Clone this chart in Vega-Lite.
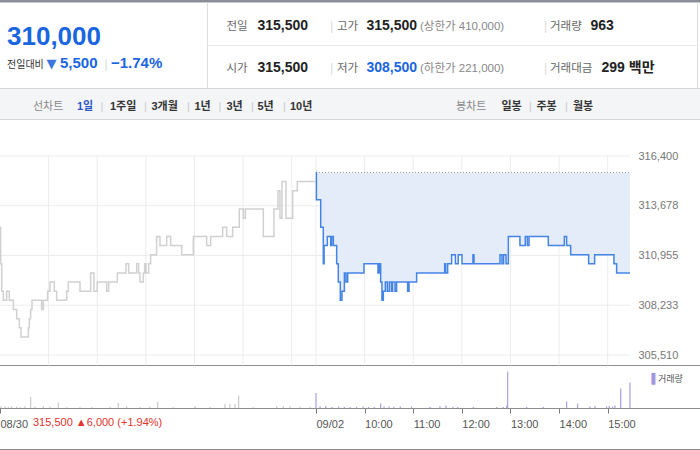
{
"$schema":"https://vega.github.io/schema/vega-lite/v6.json",
"width":700,"height":450,"autosize":{"type":"none"},"padding":0,"background":"#ffffff",
"config":{"view":{"stroke":null}},
"datasets":{
"frame":[
{"x0":0,"x1":38,"y0":0,"y1":1,"k":"top","m":"rect"},
{"x0":0,"x1":38,"y0":7,"y1":9,"k":"tab","m":"rect"},
{"x0":0,"x1":38,"y0":7,"y1":7,"k":"border","m":"rule"},
{"x0":0,"x1":38,"y0":9,"y1":9,"k":"border","m":"rule"},
{"x0":14,"x1":14,"y0":1,"y1":7,"k":"light","m":"rule"},
{"x0":14,"x1":37,"y0":4,"y1":4,"k":"faint","m":"rule"},
{"x0":37,"x1":37,"y0":1,"y1":7,"k":"light","m":"rule"},
{"x0":0,"x1":38,"y0":11,"y1":11,"k":"dark","m":"rule"},
{"x0":0,"x1":38,"y0":13,"y1":13,"k":"dark","m":"rule"},
{"x0":0,"x1":38,"y0":15,"y1":15,"k":"dark","m":"rule"}
],
"hdr":[
{"s":"310,000","ix":1,"iy":3,"g":"big"},
{"s":"전일대비","ix":1,"iy":5,"g":"sublbl"},
{"s":"▼","ix":3,"iy":5,"g":"tri"},
{"s":"5,500","ix":4,"iy":5,"g":"subval"},
{"s":"|","ix":7,"iy":5,"g":"sep"},
{"s":"−1.74%","ix":9,"iy":5,"g":"subval"},
{"s":"전일","ix":16,"iy":2,"g":"lbl"},
{"s":"시가","ix":16,"iy":6,"g":"lbl"},
{"s":"고가","ix":22,"iy":2,"g":"lbl"},
{"s":"저가","ix":22,"iy":6,"g":"lbl"},
{"s":"거래량","ix":30,"iy":2,"g":"lbl"},
{"s":"거래대금","ix":30,"iy":6,"g":"lbl"},
{"s":"315,500","ix":18,"iy":2,"g":"val"},
{"s":"315,500","ix":18,"iy":6,"g":"val"},
{"s":"315,500","ix":23,"iy":2,"g":"val"},
{"s":"963","ix":33,"iy":2,"g":"val"},
{"s":"299 백만","ix":34,"iy":6,"g":"val"},
{"s":"308,500","ix":23,"iy":6,"g":"valblue"},
{"s":"(상한가 410,000)","ix":24,"iy":2,"g":"paren"},
{"s":"(하한가 221,000)","ix":24,"iy":6,"g":"paren"},
{"s":"|","ix":21,"iy":2,"g":"sep"},
{"s":"|","ix":21,"iy":6,"g":"sep"},
{"s":"|","ix":29,"iy":2,"g":"sep"},
{"s":"|","ix":29,"iy":6,"g":"sep"},
{"s":"선차트","ix":2,"iy":8,"g":"tabhead"},
{"s":"봉차트","ix":25,"iy":8,"g":"tabhead"},
{"s":"1일","ix":5,"iy":8,"g":"tabsel"},
{"s":"1주일","ix":8,"iy":8,"g":"tab"},
{"s":"3개월","ix":11,"iy":8,"g":"tab"},
{"s":"1년","ix":13,"iy":8,"g":"tab"},
{"s":"3년","ix":16,"iy":8,"g":"tab"},
{"s":"5년","ix":18,"iy":8,"g":"tab"},
{"s":"10년","ix":20,"iy":8,"g":"tab"},
{"s":"일봉","ix":26,"iy":8,"g":"tab"},
{"s":"주봉","ix":28,"iy":8,"g":"tab"},
{"s":"월봉","ix":32,"iy":8,"g":"tab"},
{"s":"|","ix":6,"iy":8,"g":"tabsep"},
{"s":"|","ix":10,"iy":8,"g":"tabsep"},
{"s":"|","ix":12,"iy":8,"g":"tabsep"},
{"s":"|","ix":15,"iy":8,"g":"tabsep"},
{"s":"|","ix":17,"iy":8,"g":"tabsep"},
{"s":"|","ix":19,"iy":8,"g":"tabsep"},
{"s":"|","ix":27,"iy":8,"g":"tabsep"},
{"s":"|","ix":31,"iy":8,"g":"tabsep"},
{"s":"315,500 ▲6,000 (+1.94%)","ix":2,"iy":14,"g":"red"},
{"s":"거래량","ix":36,"iy":12,"g":"leg"},
{"s":"▌","ix":35,"iy":12,"g":"legbar"}
],
"hgrid":[{"p":305510},{"p":308233},{"p":310955},{"p":313678},{"p":316400}],
"vgrid":[{"t":60},{"t":120},{"t":180},{"t":240},{"t":300},{"t":360},{"t":390},{"t":450},{"t":510},{"t":570},{"t":630},{"t":690},{"t":750}],
"price":[
{"d":"08/30","t":0,"p":312500},{"d":"08/30","t":0.8,"p":310500},{"d":"08/30","t":2.1,"p":309000},{"d":"08/30","t":4.1,"p":308500},
{"d":"08/30","t":8.2,"p":309000},{"d":"08/30","t":11.5,"p":308500},{"d":"08/30","t":16.5,"p":308000},{"d":"08/30","t":20.6,"p":307500},
{"d":"08/30","t":23.9,"p":307000},{"d":"08/30","t":25.9,"p":306500},{"d":"08/30","t":35,"p":307000},{"d":"08/30","t":36.2,"p":307500},
{"d":"08/30","t":37.8,"p":308000},{"d":"08/30","t":39.5,"p":308500},{"d":"08/30","t":51.4,"p":308000},{"d":"08/30","t":53.5,"p":308500},
{"d":"08/30","t":58.8,"p":309000},{"d":"08/30","t":61.7,"p":309500},{"d":"08/30","t":67,"p":309000},{"d":"08/30","t":69.9,"p":308500},
{"d":"08/30","t":82.3,"p":309000},{"d":"08/30","t":84.3,"p":309500},{"d":"08/30","t":98.7,"p":309000},{"d":"08/30","t":111.9,"p":310000},
{"d":"08/30","t":116,"p":309000},{"d":"08/30","t":120.1,"p":309500},{"d":"08/30","t":131.6,"p":309000},{"d":"08/30","t":134.1,"p":309500},
{"d":"08/30","t":144.8,"p":310000},{"d":"08/30","t":155.5,"p":310500},{"d":"08/30","t":158.8,"p":310000},{"d":"08/30","t":168.7,"p":310500},
{"d":"08/30","t":171.1,"p":310000},{"d":"08/30","t":172.8,"p":309500},{"d":"08/30","t":176.9,"p":310000},{"d":"08/30","t":178.5,"p":310500},
{"d":"08/30","t":180.2,"p":310000},{"d":"08/30","t":183.5,"p":310500},{"d":"08/30","t":185.9,"p":311000},{"d":"08/30","t":193.3,"p":312000},
{"d":"08/30","t":197.4,"p":311500},{"d":"08/30","t":205.7,"p":312000},{"d":"08/30","t":210.6,"p":311500},{"d":"08/30","t":224.2,"p":311000},
{"d":"08/30","t":238.6,"p":312000},{"d":"08/30","t":255,"p":311500},{"d":"08/30","t":260,"p":312000},{"d":"08/30","t":274.8,"p":312500},
{"d":"08/30","t":279.7,"p":312000},{"d":"08/30","t":287.1,"p":312500},{"d":"08/30","t":295.3,"p":313500},{"d":"08/30","t":300.3,"p":313000},
{"d":"08/30","t":302.8,"p":313500},{"d":"08/30","t":325,"p":312000},{"d":"08/30","t":338.1,"p":313500},{"d":"08/30","t":343.1,"p":314500},
{"d":"08/30","t":345.5,"p":313000},{"d":"08/30","t":348,"p":315000},{"d":"08/30","t":352.9,"p":313000},{"d":"08/30","t":361.2,"p":314500},
{"d":"08/30","t":366.9,"p":315000},{"d":"08/30","t":389,"p":315000},
{"d":"09/02","t":390,"p":315500},{"d":"09/02","t":390.5,"p":314000},{"d":"09/02","t":395.8,"p":312500},{"d":"09/02","t":399,"p":310500},
{"d":"09/02","t":400,"p":311500},{"d":"09/02","t":404,"p":312000},{"d":"09/02","t":408.1,"p":311500},{"d":"09/02","t":409.3,"p":312000},
{"d":"09/02","t":411.4,"p":311500},{"d":"09/02","t":415.5,"p":310500},{"d":"09/02","t":417.5,"p":309500},{"d":"09/02","t":420,"p":308500},
{"d":"09/02","t":422,"p":309000},{"d":"09/02","t":425,"p":310000},{"d":"09/02","t":427,"p":309500},{"d":"09/02","t":429.1,"p":310000},
{"d":"09/02","t":449.2,"p":310500},{"d":"09/02","t":466.5,"p":310000},{"d":"09/02","t":468.2,"p":310500},{"d":"09/02","t":469.8,"p":309500},
{"d":"09/02","t":471.4,"p":308500},{"d":"09/02","t":473.1,"p":309000},{"d":"09/02","t":475.6,"p":309500},{"d":"09/02","t":478,"p":309000},
{"d":"09/02","t":480.5,"p":309500},{"d":"09/02","t":483,"p":309000},{"d":"09/02","t":484.6,"p":309500},{"d":"09/02","t":487.5,"p":309000},
{"d":"09/02","t":489.5,"p":309500},{"d":"09/02","t":503.1,"p":309000},{"d":"09/02","t":504.8,"p":309500},{"d":"09/02","t":514.2,"p":310000},
{"d":"09/02","t":548.8,"p":310500},{"d":"09/02","t":550,"p":310000},{"d":"09/02","t":552.5,"p":310500},{"d":"09/02","t":557.4,"p":311000},
{"d":"09/02","t":562,"p":310500},{"d":"09/02","t":565.6,"p":311000},{"d":"09/02","t":570.2,"p":310500},{"d":"09/02","t":583.7,"p":311000},
{"d":"09/02","t":585,"p":310500},{"d":"09/02","t":617.1,"p":311000},{"d":"09/02","t":619.5,"p":310500},{"d":"09/02","t":621.6,"p":311000},
{"d":"09/02","t":624.5,"p":310500},{"d":"09/02","t":627.4,"p":312000},{"d":"09/02","t":641.7,"p":311500},{"d":"09/02","t":648.3,"p":312000},
{"d":"09/02","t":650.8,"p":311500},{"d":"09/02","t":652.9,"p":312000},{"d":"09/02","t":676.7,"p":311500},{"d":"09/02","t":696.5,"p":312000},
{"d":"09/02","t":699.3,"p":311500},{"d":"09/02","t":704.3,"p":311000},{"d":"09/02","t":726.5,"p":310500},{"d":"09/02","t":733.9,"p":311000},
{"d":"09/02","t":757.7,"p":310500},{"d":"09/02","t":761,"p":310000},{"d":"09/02","t":777.5,"p":310000}
],
"vol":[
{"d":"08/30","t":1.2,"v":4},{"d":"08/30","t":6.2,"v":3},{"d":"08/30","t":10.3,"v":2},{"d":"08/30","t":14.4,"v":3},{"d":"08/30","t":20.6,"v":3},
{"d":"08/30","t":24.7,"v":2},{"d":"08/30","t":30.9,"v":4},{"d":"08/30","t":37.8,"v":22},{"d":"08/30","t":43.2,"v":3},{"d":"08/30","t":53.5,"v":4},
{"d":"08/30","t":61.7,"v":3},{"d":"08/30","t":72,"v":11},{"d":"08/30","t":82.3,"v":2},{"d":"08/30","t":98.7,"v":2},{"d":"08/30","t":113.1,"v":2},
{"d":"08/30","t":135.7,"v":2},{"d":"08/30","t":146,"v":10},{"d":"08/30","t":156.3,"v":4},{"d":"08/30","t":172.8,"v":2},{"d":"08/30","t":185.1,"v":3},
{"d":"08/30","t":194.6,"v":12},{"d":"08/30","t":213.9,"v":2},{"d":"08/30","t":240.6,"v":4},{"d":"08/30","t":259.2,"v":2},{"d":"08/30","t":277.7,"v":8},
{"d":"08/30","t":283.8,"v":8},{"d":"08/30","t":290,"v":8},{"d":"08/30","t":294.5,"v":25},{"d":"08/30","t":312.6,"v":2},{"d":"08/30","t":341.4,"v":4},
{"d":"08/30","t":349.6,"v":4},{"d":"08/30","t":357.9,"v":4},{"d":"08/30","t":370.2,"v":3},{"d":"08/30","t":382.6,"v":2},
{"d":"09/02","t":390,"v":30},{"d":"09/02","t":395,"v":3},{"d":"09/02","t":402,"v":4},{"d":"09/02","t":410,"v":2},{"d":"09/02","t":418,"v":3},
{"d":"09/02","t":425,"v":2},{"d":"09/02","t":432,"v":2},{"d":"09/02","t":440,"v":2},{"d":"09/02","t":448,"v":3},{"d":"09/02","t":455,"v":2},
{"d":"09/02","t":462,"v":2},{"d":"09/02","t":469.8,"v":9},{"d":"09/02","t":474,"v":3},{"d":"09/02","t":480,"v":3},{"d":"09/02","t":486,"v":2},
{"d":"09/02","t":494,"v":3},{"d":"09/02","t":508,"v":3},{"d":"09/02","t":530.7,"v":2},{"d":"09/02","t":543,"v":4},{"d":"09/02","t":550.4,"v":5},
{"d":"09/02","t":559,"v":2},{"d":"09/02","t":565,"v":2},{"d":"09/02","t":584.2,"v":2},{"d":"09/02","t":613,"v":2},{"d":"09/02","t":621,"v":2},
{"d":"09/02","t":625.3,"v":5},{"d":"09/02","t":626.5,"v":73},{"d":"09/02","t":650,"v":2},{"d":"09/02","t":670.5,"v":2},{"d":"09/02","t":699.3,"v":13},
{"d":"09/02","t":712.9,"v":9},{"d":"09/02","t":728.1,"v":3},{"d":"09/02","t":734.3,"v":4},{"d":"09/02","t":748.7,"v":3},{"d":"09/02","t":752,"v":4},
{"d":"09/02","t":756,"v":3},{"d":"09/02","t":759,"v":5},{"d":"09/02","t":766,"v":39},{"d":"09/02","t":777.5,"v":51}
]
},
"resolve":{"scale":{"x":"independent","y":"independent","color":"independent"},"axis":{"x":"independent","y":"independent"}},
"layer":[
{"data":{"name":"frame"},
 "encoding":{
  "x":{"field":"x0","type":"quantitative","axis":null,"scale":{"domain":[0,1,2,3,4,5,6,7,8,9,10,11,12,13,14,15,16,17,18,19,20,21,22,23,24,25,26,27,28,29,30,31,32,33,34,35,36,37,38],"range":[0,7,33,46.5,60,77,100.5,104.5,110,111,144,151.5,187,194.5,207.5,218.5,226.5,251,257.5,283,290,330,337,366.5,420,456,501.5,529,536.5,544,550,565,573,590.5,601.5,651.5,658,697.5,700],"nice":false,"zero":false}},
  "x2":{"field":"x1"},
  "y":{"field":"y0","type":"quantitative","axis":null,"scale":{"domain":[0,1,2,3,4,5,6,7,8,9,10,11,12,13,14,15],"range":[0,2.5,29.5,45,45.5,67.5,71.5,88.5,109.5,119.5,156,365.5,382,408.5,425.5,449.5],"nice":false,"zero":false}},
  "y2":{"field":"y1"},
  "color":{"field":"k","type":"nominal","legend":null,"scale":{"domain":["top","tab","border","light","faint","dark"],"range":["#8c8f97","#f4f5f7","#d3d5da","#dedede","#ebebeb","#8d8d8d"]}}
 },
 "layer":[
  {"transform":[{"filter":"datum.m == 'rect'"}],"mark":{"type":"rect"}},
  {"transform":[{"filter":"datum.m == 'rule'"}],"mark":{"type":"rule","strokeWidth":1}}
 ]},
{"data":{"name":"vgrid"},"mark":{"type":"rule","color":"#ececec","strokeWidth":1},
 "encoding":{
  "x":{"field":"t","type":"quantitative","axis":null,"scale":{"domain":[0,780],"range":[0,632],"nice":false,"zero":false}},
  "y":{"datum":10,"type":"quantitative","axis":null,"scale":{"domain":[0,1,2,3,4,5,6,7,8,9,10,11,12,13,14,15],"range":[0,2.5,29.5,45,45.5,67.5,71.5,88.5,109.5,119.5,156,365.5,382,408.5,425.5,449.5],"nice":false,"zero":false}},
  "y2":{"datum":11}
 }},
{"data":{"name":"hgrid"},"mark":{"type":"rule","color":"#ececec","strokeWidth":1},
 "encoding":{
  "x":{"datum":0,"type":"quantitative","axis":null,"scale":{"domain":[0,780],"range":[0,632],"nice":false,"zero":false}},
  "x2":{"datum":777.5},
  "y":{"field":"p","type":"quantitative","scale":{"domain":[305510,316400],"range":[355,156],"nice":false,"zero":false},
   "axis":{"orient":"right","offset":-63,"values":[305510,308233,310955,313678,316400],"labelExpr":"format(datum.value, ',')","domain":false,"ticks":false,"grid":false,"labelPadding":1,"labelFont":"Liberation Sans","labelFontSize":11,"labelColor":"#777777","labelBaseline":"middle","labelFlush":false,"labelOverlap":false,"title":null}}
 }},
{"data":{"name":"price"},"transform":[{"filter":"datum.d == '09/02'"}],
 "mark":{"type":"area","interpolate":"step-after","color":"#e4ecf9","opacity":1},
 "encoding":{
  "x":{"field":"t","type":"quantitative","axis":null,"scale":{"domain":[0,780],"range":[0,632],"nice":false,"zero":false}},
  "y":{"field":"p","type":"quantitative","axis":null,"scale":{"domain":[305510,316400],"range":[355,156],"nice":false,"zero":false}},
  "y2":{"datum":315500}
 }},
{"data":{"values":[{"c":"prev"}]},"mark":{"type":"rule","color":"#999999","strokeWidth":1,"strokeDash":[1,2]},
 "encoding":{
  "x":{"datum":390,"type":"quantitative","axis":null,"scale":{"domain":[0,780],"range":[0,632],"nice":false,"zero":false}},
  "x2":{"datum":777.5},
  "y":{"datum":315500,"type":"quantitative","axis":null,"scale":{"domain":[305510,316400],"range":[355,156],"nice":false,"zero":false}}
 }},
{"data":{"name":"price"},
 "mark":{"type":"line","interpolate":"step-after","strokeWidth":1.5},
 "encoding":{
  "x":{"field":"t","type":"quantitative","axis":null,"scale":{"domain":[0,780],"range":[0,632],"nice":false,"zero":false}},
  "y":{"field":"p","type":"quantitative","axis":null,"scale":{"domain":[305510,316400],"range":[355,156],"nice":false,"zero":false}},
  "color":{"field":"d","type":"nominal","legend":null,"scale":{"domain":["08/30","09/02"],"range":["#d0d0d0","#4384e6"]}}
 }},
{"data":{"name":"vol"},
 "mark":{"type":"rule","strokeWidth":1.3},
 "encoding":{
  "x":{"field":"t","type":"quantitative","scale":{"domain":[0,780],"range":[0,632],"nice":false,"zero":false},
   "axis":{"orient":"bottom","offset":-42,"values":[0,390,450,510,570,630,690,750],"labelExpr":"datum.value == 0 ? '08/30' : datum.value == 390 ? '09/02' : format(9 + (datum.value - 390) / 60, 'd') + ':00'","domain":false,"ticks":true,"tickSize":5,"tickColor":"#777777","labelAlign":"left","labelPadding":5,"labelFont":"Liberation Sans","labelFontSize":11,"labelColor":"#555555","labelFlush":false,"labelOverlap":false,"grid":false,"title":null}},
  "y":{"field":"v","type":"quantitative","axis":null,"scale":{"domain":[0,84],"range":[408,366],"nice":false,"zero":false}},
  "y2":{"datum":0},
  "color":{"field":"d","type":"nominal","legend":null,"scale":{"domain":["08/30","09/02"],"range":["#cdcdcd","#b2a5e0"]}}
 }},
{"data":{"name":"hdr"},
 "encoding":{
  "x":{"field":"ix","type":"quantitative","axis":null,"scale":{"domain":[0,1,2,3,4,5,6,7,8,9,10,11,12,13,14,15,16,17,18,19,20,21,22,23,24,25,26,27,28,29,30,31,32,33,34,35,36,37,38],"range":[0,7,33,46.5,60,77,100.5,104.5,110,111,144,151.5,187,194.5,207.5,218.5,226.5,251,257.5,283,290,330,337,366.5,420,456,501.5,529,536.5,544,550,565,573,590.5,601.5,651.5,658,697.5,700],"nice":false,"zero":false}},
  "y":{"field":"iy","type":"quantitative","axis":null,"scale":{"domain":[0,1,2,3,4,5,6,7,8,9,10,11,12,13,14,15],"range":[0,2.5,29.5,45,45.5,67.5,71.5,88.5,109.5,119.5,156,365.5,382,408.5,425.5,449.5],"nice":false,"zero":false}},
  "text":{"field":"s"}
 },
 "layer":[
  {"transform":[{"filter":"datum.g == 'big'"}],"mark":{"type":"text","align":"left","baseline":"alphabetic","font":"Liberation Sans","fontSize":26,"fontWeight":"bold","fill":"#1a66e0"}},
  {"transform":[{"filter":"datum.g == 'sublbl'"}],"mark":{"type":"text","align":"left","baseline":"alphabetic","font":"Noto Sans CJK KR","fontSize":10,"fill":"#333333"}},
  {"transform":[{"filter":"datum.g == 'tri'"}],"mark":{"type":"text","align":"left","baseline":"alphabetic","font":"DejaVu Sans","fontSize":13,"fill":"#3a78dc"}},
  {"transform":[{"filter":"datum.g == 'subval'"}],"mark":{"type":"text","align":"left","baseline":"alphabetic","font":"Liberation Sans","fontSize":15,"fontWeight":"bold","fill":"#1a66e0"}},
  {"transform":[{"filter":"datum.g == 'sep'"}],"mark":{"type":"text","align":"left","baseline":"alphabetic","font":"Liberation Sans","fontSize":12,"fill":"#d8d8d8"}},
  {"transform":[{"filter":"datum.g == 'lbl'"}],"mark":{"type":"text","align":"left","baseline":"alphabetic","font":"Noto Sans CJK KR","fontSize":11.5,"fill":"#666666"}},
  {"transform":[{"filter":"datum.g == 'val'"}],"mark":{"type":"text","align":"left","baseline":"alphabetic","font":"Liberation Sans, Noto Sans CJK KR","fontSize":14,"fontWeight":"bold","fill":"#222222"}},
  {"transform":[{"filter":"datum.g == 'valblue'"}],"mark":{"type":"text","align":"left","baseline":"alphabetic","font":"Liberation Sans","fontSize":14,"fontWeight":"bold","fill":"#1a66e0"}},
  {"transform":[{"filter":"datum.g == 'paren'"}],"mark":{"type":"text","align":"left","baseline":"alphabetic","font":"Liberation Sans, Noto Sans CJK KR","fontSize":11.5,"fill":"#888888"}},
  {"transform":[{"filter":"datum.g == 'tabhead'"}],"mark":{"type":"text","align":"left","baseline":"alphabetic","font":"Noto Sans CJK KR","fontSize":11,"fill":"#888888"}},
  {"transform":[{"filter":"datum.g == 'tab'"}],"mark":{"type":"text","align":"left","baseline":"alphabetic","font":"Liberation Sans, Noto Sans CJK KR","fontSize":11,"fontWeight":"bold","fill":"#333333"}},
  {"transform":[{"filter":"datum.g == 'tabsel'"}],"mark":{"type":"text","align":"left","baseline":"alphabetic","font":"Liberation Sans, Noto Sans CJK KR","fontSize":11,"fontWeight":"bold","fill":"#2d57c8"}},
  {"transform":[{"filter":"datum.g == 'tabsep'"}],"mark":{"type":"text","align":"left","baseline":"alphabetic","font":"Liberation Sans","fontSize":11,"fill":"#cccccc"}},
  {"transform":[{"filter":"datum.g == 'red'"}],"mark":{"type":"text","align":"left","baseline":"alphabetic","font":"Liberation Sans, DejaVu Sans","fontSize":11,"fill":"#e5322d"}},
  {"transform":[{"filter":"datum.g == 'leg'"}],"mark":{"type":"text","align":"left","baseline":"alphabetic","font":"Noto Sans CJK KR","fontSize":9,"fill":"#555555"}},
  {"transform":[{"filter":"datum.g == 'legbar'"}],"mark":{"type":"text","align":"left","baseline":"alphabetic","font":"DejaVu Sans","fontSize":10,"fill":"#a597da"}}
 ]}
]
}
